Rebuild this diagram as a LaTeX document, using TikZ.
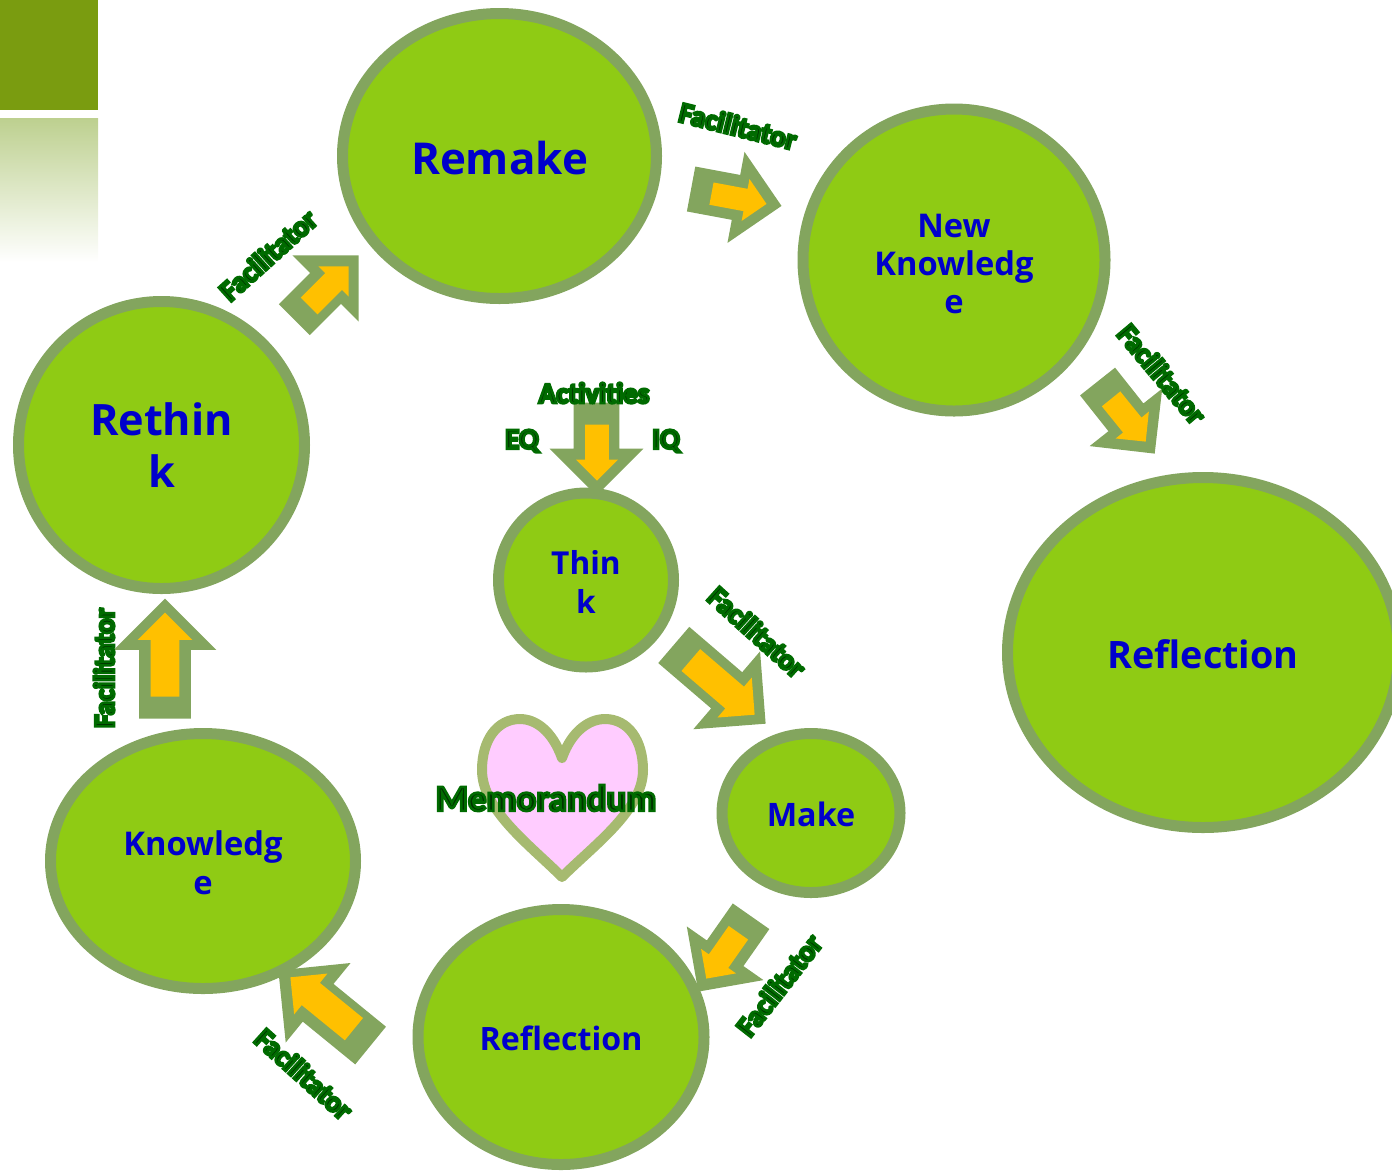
\documentclass[tikz,border=0pt]{standalone}
\usepackage{fontspec}
\usepackage{tikz}
\usetikzlibrary{shapes.geometric,shapes.arrows}
\newfontfamily\roundfont{Open Sans}
\newfontfamily\labelfont{Carlito}
\definecolor{ballgreen}{HTML}{8FCB14}
\definecolor{rimgreen}{HTML}{83A55E}
\definecolor{squaregreen}{HTML}{7A9C10}
\definecolor{fadegreen}{HTML}{BDD08F}
\definecolor{roundblue}{HTML}{0000CC}
\definecolor{labelgreen}{HTML}{003300}
\definecolor{arrowyellow}{HTML}{FFC000}
\definecolor{heartpink}{HTML}{FFCCFF}
\definecolor{heartrim}{HTML}{A6BA70}
\newcommand{\halotext}[1]{\textcolor{labelgreen}{\special{pdf:code 2 Tr 1.5 w 0 0.42 0 RG}#1\special{pdf:code 0 Tr}}}
\tikzset{
	ball/.style n args={4}{ellipse,draw=rimgreen,fill=ballgreen,line width=0.22cm,inner sep=0pt,
		minimum width=#1*0.02cm,minimum height=#2*0.02cm,align=center,text=roundblue,
		font=\roundfont\bfseries\fontsize{#3}{#4}\selectfont,
		execute at begin node=\rule{0pt}{.87em}},
	blockarrow/.style n args={4}{single arrow,anchor=tip,inner xsep=0pt,inner ysep=#4*0.01cm,rotate=#1,
		minimum height=#2*0.02cm,minimum width=#3*0.02cm,
		single arrow head extend=(#3-#4)*0.01cm},
	outerarrow/.style n args={4}{blockarrow={#1}{#2}{#3}{#4},fill=rimgreen},
	innerarrow/.style n args={4}{blockarrow={#1}{#2}{#3}{#4},fill=arrowyellow},
	facil/.style={font=\labelfont\bfseries\fontsize{16.5}{18}\selectfont,inner sep=0pt},
}
\begin{document}
\begin{tikzpicture}[x=0.02cm,y=-0.02cm]
	\clip (0,0) rectangle (1392,1171);
	% corner squares
	\fill[squaregreen] (0,0) rectangle (98,110);
	\shade[top color=fadegreen,bottom color=white] (0,118) rectangle (98,262);

	% the round steps
	\node (remake) [ball={314}{285}{25}{30}] at (499.5,156) {Remake};
	\node (newknow) [ball={302}{302}{18.6}{21.6}] at (954,260) {\rule{0pt}{.94em}New\\Knowledg\\e};
	\node (reflectbig) [ball={391}{350}{21.5}{27}] at (1203,652.5) {Reflection};
	\node (rethink) [ball={286}{287}{24.6}{29.5}] at (161.5,445) {Rethin\\k};
	\node (think) [ball={175}{174}{18}{22}] at (586,580) {\rule{0pt}{.88em}Thin\\k};
	\node (make) [ball={178}{159}{18.4}{22}] at (811,813) {Make};
	\node (reflect) [ball={286}{255}{18.3}{22}] at (561,1037) {Reflection};
	\node (know) [ball={305}{255}{18.6}{22}] at (203,861) {\rule{0pt}{.88em}Knowledg\\e};

	% block arrows, placed by their tips
	\node (a1) [outerarrow={45}{91}{93}{43}] at (359,255) {};
	\node (a1i) [innerarrow={45}{56}{42}{23}] at (349,266) {};
	\node (a2) [outerarrow={-10.6}{92}{92}{45}] at (782,206) {};
	\node (a2i) [innerarrow={-10.6}{56}{42}{22}] at (767,204) {};
	\node (a3) [outerarrow={-51.6}{92}{92}{44}] at (1155,454) {};
	\node (a3i) [innerarrow={-51}{55}{42}{23}] at (1146,442) {};
	\node (a4) [outerarrow={-90}{93}{93}{45}] at (596.5,496) {};
	\node (a4i) [innerarrow={-90}{56}{41}{23}] at (597,481) {};
	\node (a5) [outerarrow={-40.6}{121}{102}{47}] at (766,724) {};
	\node (a5i) [innerarrow={-40.6}{84}{52}{28}] at (755,715) {};
	\node (a6) [outerarrow={235}{92}{93}{44}] at (698,992) {};
	\node (a6i) [innerarrow={235}{56}{42}{23}] at (706,979) {};
	\node (a7) [outerarrow={140.8}{119}{102}{48}] at (278,970) {};
	\node (a7i) [innerarrow={140.8}{82}{52}{28}] at (290,977) {};
	\node (a8) [outerarrow={90}{120}{102}{51}] at (165,598) {};
	\node (a8i) [innerarrow={90}{84}{54}{28}] at (165,612) {};

	% heart
	\draw[heartrim,fill=heartpink,line width=0.2cm,line join=round] (562,758)
		.. controls (552,730) and (535,719) .. (520,719)
		.. controls (497,719) and (482,740) .. (482,770)
		.. controls (482,810) and (530,845) .. (562,877)
		.. controls (594,845) and (643,810) .. (643,770)
		.. controls (643,740) and (628,719) .. (605,719)
		.. controls (590,719) and (572,730) .. (562,758) -- cycle;

	% labels
	\node (f1) [facil,rotate=42] at (268,255) {\halotext{Facilitator}};
	\node (f2) [facil,rotate=-14] at (738,126) {\halotext{Facilitator}};
	\node (f3) [facil,rotate=-50] at (1162,374) {\halotext{Facilitator}};
	\node (f4) [facil,rotate=-42] at (757,632) {\halotext{Facilitator}};
	\node (f5) [facil,rotate=52] at (779,985) {\halotext{Facilitator}};
	\node (f6) [facil,rotate=-42] at (304,1074) {\halotext{Facilitator}};
	\node (f7) [facil,rotate=90] at (104,668) {\halotext{Facilitator}};
	\node (activ) [facil] at (594,393) {\halotext{Activities}};
	\node (eq) [facil] at (522,441) {\halotext{EQ}};
	\node (iq) [facil] at (666,441) {\halotext{IQ}};
	\node (memo) [facil,font=\labelfont\bfseries\fontsize{21}{25}\selectfont] at (546,798) {\halotext{Memorandum}};
\end{tikzpicture}
\end{document}
